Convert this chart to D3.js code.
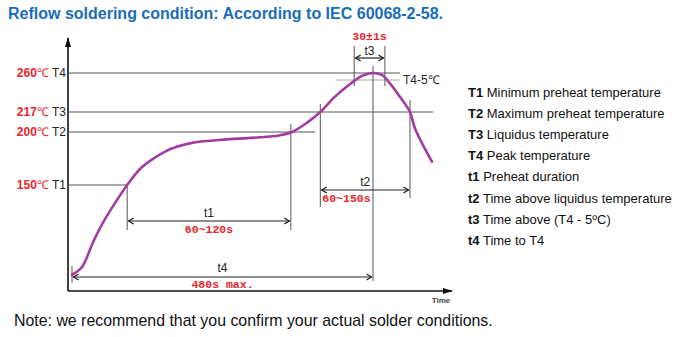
<!DOCTYPE html>
<html><head><meta charset="utf-8">
<script src="https://cdn.jsdelivr.net/npm/d3@7"></script>
<style>
body{margin:0;background:#fff;}
svg{display:block;font-family:"Liberation Sans",Arial,sans-serif;}
</style></head>
<body><svg id="c" width="697" height="337"></svg>
<script>
// ---- data ----
const curveTime = [0, 16, 33, 49, 69, 88, 110, 130, 150, 167, 193, 247, 300, 332, 351, 375, 396, 419, 443, 463, 480, 494, 507, 523, 539, 547, 574];
const curveTemp = [23, 34, 68, 96, 125, 150, 166, 175, 182, 186, 190, 193, 195, 197, 200, 208, 217, 235, 250, 258, 260, 258.6, 251, 235, 217, 203, 172];
const levelTemps = [260, 217, 200, 150];
const levelNames = ["T4", "T3", "T2", "T1"];
const levelValueLabels = ["260℃", "217℃", "200℃", "150℃"];
const peakMinus5 = 255;
const keyTimes = {start: 0, t1a: 88, t1b: 349, t2a: 396, t2b: 539, t3a: 450, t3b: 499, peak: 480};
const spanLabels = ["t1", "t2", "t3", "t4"];
const spanValues = ["60~120s", "60~150s", "30±1s", "480s max."];
const legendKeys = ["T1", "T2", "T3", "T4", "t1", "t2", "t3", "t4"];
const legendTexts = ["Minimum preheat temperature", "Maximum preheat temperature", "Liquidus temperature", "Peak temperature", "Preheat duration", "Time above liquidus temperature", "Time above (T4 - 5ºC)", "Time to T4"];

// ---- scales ----
const x = d3.scaleLinear().domain([0, 480]).range([72, 373]);
const y = d3.scaleLinear().domain([0, 150, 200, 217, 255, 260]).range([291, 185, 132, 112, 80, 73]);

const svg = d3.select("#c");
const defs = svg.append("defs");
function mk(id, color, path, w, h, rx, ry) {
  defs.append("marker").attr("id", id).attr("viewBox", `0 0 ${w} ${h}`)
    .attr("refX", rx).attr("refY", ry).attr("markerWidth", w).attr("markerHeight", h)
    .attr("markerUnits", "userSpaceOnUse").attr("orient", "auto-start-reverse")
    .append("path").attr("d", path).attr("fill", "none").attr("stroke", color).attr("stroke-width", 1.3);
}
mk("chev", "#222", "M1,1 L6,4 L1,7", 8, 8, 6.5, 4);
defs.append("marker").attr("id", "axarr").attr("viewBox", "0 0 10 8").attr("refX", 9).attr("refY", 4)
  .attr("markerWidth", 10).attr("markerHeight", 8).attr("markerUnits", "userSpaceOnUse").attr("orient", "auto")
  .append("path").attr("d", "M0,1 L10,4 L0,7 Z").attr("fill", "#111");

const RED = "#e8262b", GRID = "#555";

// title
svg.append("text").attr("x", 8).attr("y", 19).attr("font-size", 16).attr("font-weight", "bold")
  .attr("fill", "#1b6cb8").text("Reflow soldering condition: According to IEC 60068-2-58.");

// axes
const x0 = 68, yAxis = 291;
svg.append("line").attr("x1", x0).attr("y1", yAxis).attr("x2", x0).attr("y2", 38)
  .attr("stroke", "#111").attr("stroke-width", 1.6).attr("marker-end", "url(#axarr)");
svg.append("line").attr("x1", x0).attr("y1", yAxis).attr("x2", 452).attr("y2", yAxis)
  .attr("stroke", "#111").attr("stroke-width", 1.6).attr("marker-end", "url(#axarr)");
svg.append("text").attr("x", 441).attr("y", 303).attr("font-size", 8).attr("font-weight", "bold")
  .attr("fill", "#444").attr("text-anchor", "middle").text("Time");

// horizontal level lines
const levelEnd = [523, 576, 388, keyTimes.t1a];
levelTemps.forEach((t, i) => {
  svg.append("line").attr("x1", x0).attr("x2", x(levelEnd[i])).attr("y1", y(t)).attr("y2", y(t))
    .attr("stroke", GRID).attr("stroke-width", 1);
  const tx = svg.append("text").attr("x", 66).attr("y", y(t)).attr("dy", "0.35em")
    .attr("text-anchor", "end").attr("font-size", 12);
  tx.append("tspan").attr("fill", RED).attr("font-weight", "bold").text(levelValueLabels[i].replace("℃", ""));
  tx.append("tspan").attr("fill", RED).text("℃");
  tx.append("tspan").attr("fill", "#222").text(" " + levelNames[i]);
});
// T4-5 line
svg.append("line").attr("x1", x(421)).attr("x2", x(523)).attr("y1", y(peakMinus5)).attr("y2", y(peakMinus5))
  .attr("stroke", "#aaa").attr("stroke-width", 1);
svg.append("text").attr("x", 403).attr("y", y(peakMinus5)).attr("dy", "0.35em").attr("font-size", 12)
  .attr("fill", "#222").text("T4-5℃");

// vertical guide lines
function vline(t, ya, yb) {
  svg.append("line").attr("x1", x(t)).attr("x2", x(t)).attr("y1", ya).attr("y2", yb)
    .attr("stroke", GRID).attr("stroke-width", 1);
}
vline(keyTimes.t1a, y(150), 230);
vline(keyTimes.t1b, 124, 230);
vline(keyTimes.t2a, 104, 207);
vline(keyTimes.t2b, 100, 198);
vline(keyTimes.peak, 66, 281);
vline(keyTimes.t3a, 46, 86);
vline(keyTimes.t3b, 46, 86);
vline(keyTimes.start, 266, 283);

// span arrows
function span(ta, tb, yy) {
  svg.append("line").attr("x1", x(ta) + 1).attr("x2", x(tb) - 1).attr("y1", yy).attr("y2", yy)
    .attr("stroke", "#222").attr("stroke-width", 1.2)
    .attr("marker-start", "url(#chev)").attr("marker-end", "url(#chev)");
}
function lbl(xx, yy, txt, anchor) {
  svg.append("text").attr("x", xx).attr("y", yy).attr("font-size", 12).attr("fill", "#222")
    .attr("text-anchor", anchor || "middle").text(txt);
}
function rlbl(xx, yy, txt, anchor) {
  svg.append("text").attr("x", xx).attr("y", yy).attr("font-size", 11.5).attr("font-weight", "bold")
    .attr("font-family", "'Liberation Mono','DejaVu Sans Mono',monospace")
    .attr("fill", RED).attr("text-anchor", anchor || "middle").text(txt);
}
// t1
span(keyTimes.t1a, keyTimes.t1b, 221);
lbl((x(keyTimes.t1a) + x(keyTimes.t1b)) / 2, 217, spanLabels[0]);
rlbl((x(keyTimes.t1a) + x(keyTimes.t1b)) / 2, 233, spanValues[0]);
// t2
span(keyTimes.t2a, keyTimes.t2b, 190);
lbl((x(keyTimes.t2a) + x(keyTimes.t2b)) / 2, 186, spanLabels[1]);
rlbl(x(keyTimes.t2a) + 2, 202, spanValues[1], "start");
// t3
span(keyTimes.t3a, keyTimes.t3b, 58);
lbl((x(keyTimes.t3a) + x(keyTimes.t3b)) / 2, 54.5, spanLabels[2]);
rlbl((x(keyTimes.t3a) + x(keyTimes.t3b)) / 2, 40, spanValues[2]);
// t4
span(keyTimes.start, keyTimes.peak, 277);
lbl((x(keyTimes.start) + x(keyTimes.peak)) / 2, 272, spanLabels[3]);
rlbl((x(keyTimes.start) + x(keyTimes.peak)) / 2, 288, spanValues[3]);

// profile curve
const pts = curveTime.map((t, i) => [t, curveTemp[i]]);
svg.append("path").datum(pts)
  .attr("d", d3.line().x(d => x(d[0])).y(d => y(d[1])).curve(d3.curveCatmullRom.alpha(0.5)))
  .attr("fill", "none").attr("stroke", "#a23c9f").attr("stroke-width", 2.6).attr("stroke-linecap", "round");

// legend
legendKeys.forEach((k, i) => {
  const t = svg.append("text").attr("x", 468).attr("y", 97 + i * 21.1).attr("font-size", 13).attr("fill", "#111");
  t.append("tspan").attr("font-weight", "bold").text(k);
  t.append("tspan").text(" " + legendTexts[i]);
});

// note
svg.append("text").attr("x", 14).attr("y", 326).attr("font-size", 15.9).attr("fill", "#111")
  .text("Note: we recommend that you confirm your actual solder conditions.");
</script></body></html>
